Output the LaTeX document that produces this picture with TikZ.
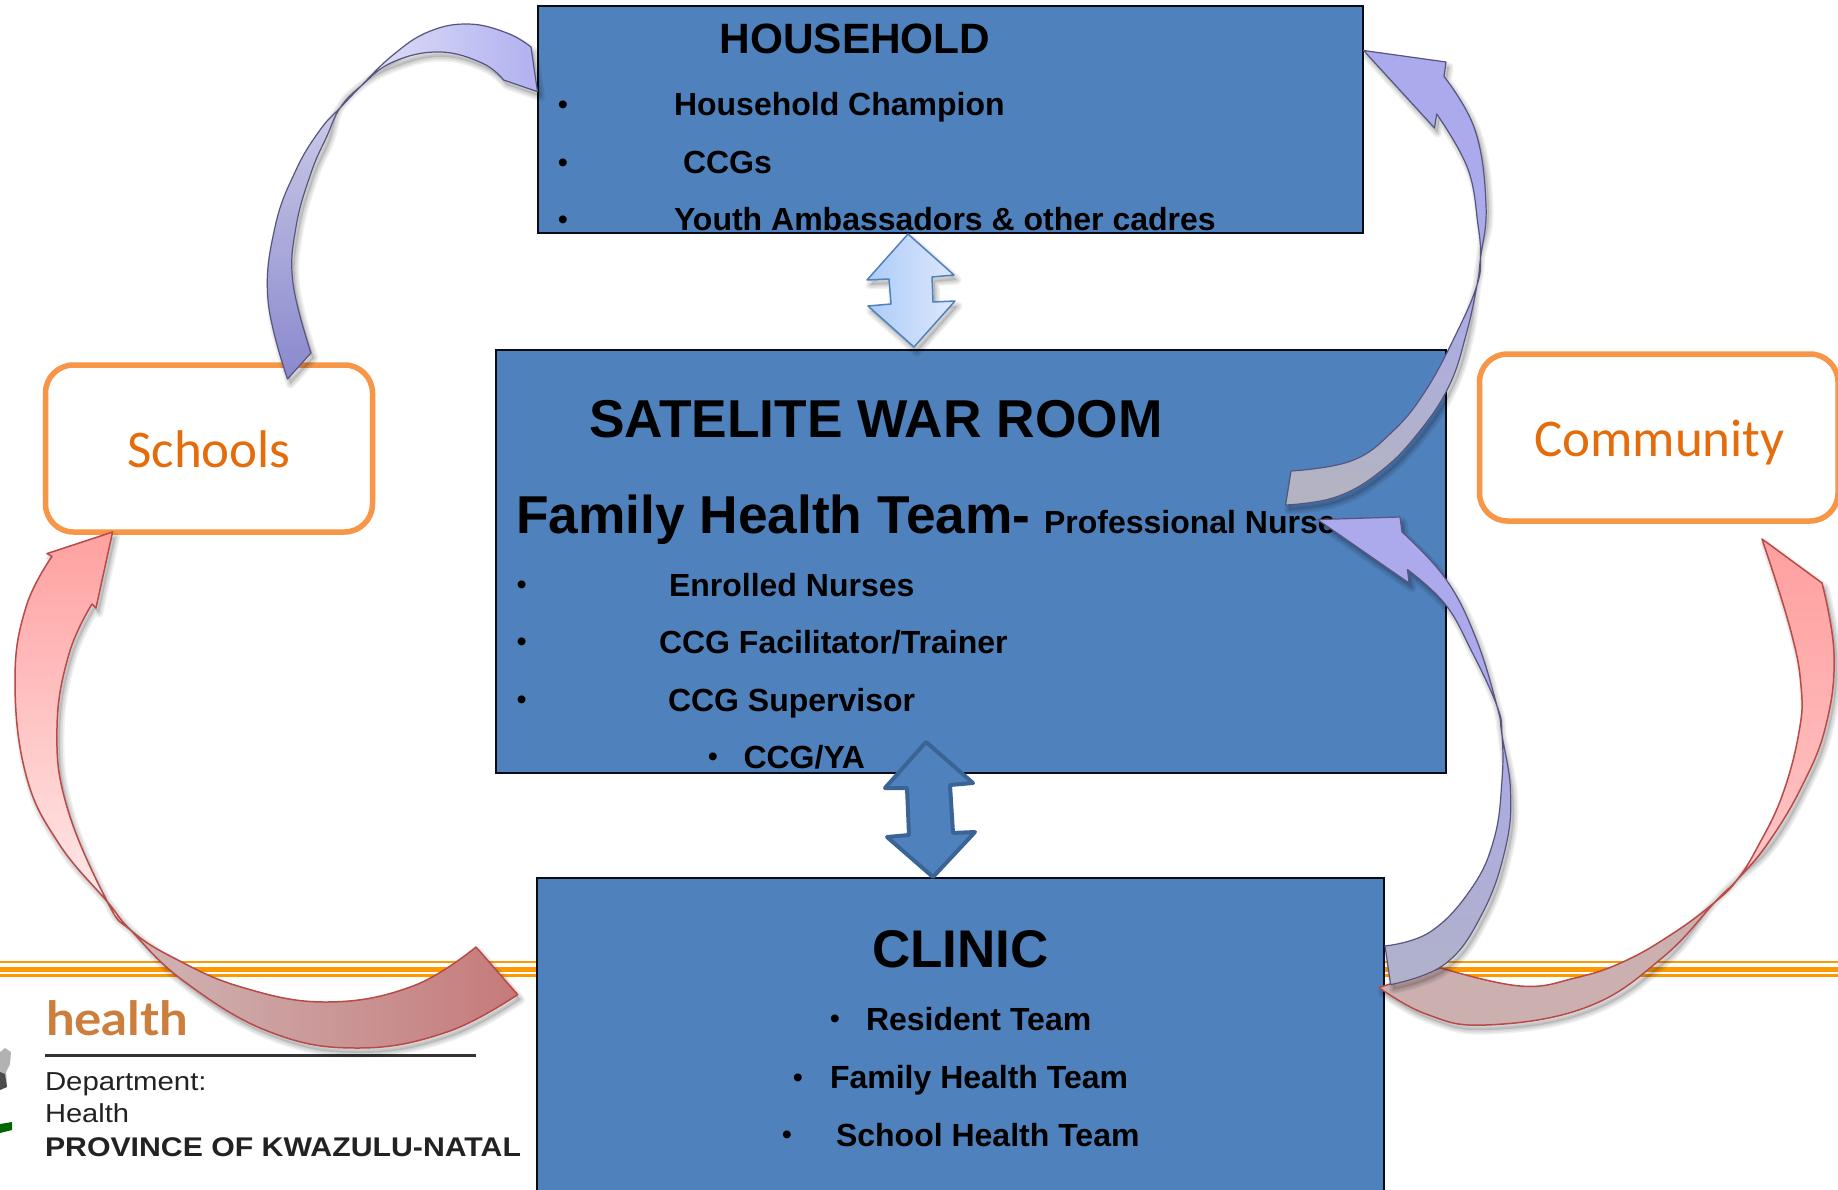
\documentclass[tikz,border=0pt]{standalone}
\usepackage{fontspec}
\usepackage{graphicx}
\setmainfont{Liberation Sans}
\newfontfamily\calibrilike{Carlito}
\newfontfamily\logofont{Lato}
\definecolor{boxblue}{HTML}{4F81BD}
\definecolor{boxedge}{HTML}{0A0A14}
\definecolor{orangeedge}{HTML}{F79646}
\definecolor{orangetext}{HTML}{E46C0A}
\definecolor{stripe}{HTML}{FF9900}
\definecolor{redline}{HTML}{B84A48}
\definecolor{blueline}{HTML}{55557F}
\definecolor{darkarrow}{HTML}{3A6496}
\definecolor{lightline}{HTML}{4F81BD}
\definecolor{logoorange}{HTML}{CC7F3C}
\definecolor{logotext}{HTML}{222222}
\tikzset{
  bluebox/.style={draw=boxedge,line width=2pt,fill=boxblue},
  roundbox/.style={draw=orangeedge,line width=5.5pt,fill=white,rounded corners=28pt},
  lbl/.style={anchor=base west,inner sep=0pt,outer sep=0pt,text=black},
  bul/.style={anchor=base,inner sep=0pt,outer sep=0pt,text=black,yshift=1.5pt,font=\mdseries\fsz{29}},
  redout/.style={draw=redline,line width=1.5pt,line join=round},
  blueout/.style={draw=blueline,line width=1.2pt,line join=round},
  sm/.style={smooth,tension=.7}
}
\newcommand{\fsz}[1]{\fontsize{#1}{#1}\selectfont}
\newcommand{\softshadow}[1]{%
  \begin{scope}[shift={(3,5)}]
    \fill[black,opacity=.12] #1;
    \foreach \w in {9,6,3}{\draw[black,draw opacity=.06,line width=\w pt,line join=round] #1;}
  \end{scope}}
\begin{document}
\begin{tikzpicture}[x=1pt,y=-1pt]
\path[use as bounding box,clip] (0,0) rectangle (1838,1190);
\fill[white] (0,0) rectangle (1838,1190);

% orange stripes
\fill[stripe] (0,960.8) rectangle (1838,963.4);
\fill[stripe] (0,966.5) rectangle (1838,971.5);
\fill[stripe] (0,973.8) rectangle (1838,976.8);

% logo
\fill[gray!60] (0,1052) -- (5,1048) -- (11,1052) -- (10,1064) -- (6,1072) -- (7,1086) -- (0,1090) -- cycle;
\fill[black!70] (0,1072) -- (5,1074) -- (7,1087) -- (0,1090) -- cycle;
\fill[green!40!black] (0,1124) -- (12,1122) -- (12,1130) -- (0,1133) -- cycle;
\node[lbl,text=logoorange] (loghealth) at (46,1035) {\logofont\bfseries\fsz{47}\scalebox{1.085}[1]{health}};
\fill[black!80] (45,1054) rectangle (476,1056.5);
\node[lbl,text=logotext] (logdept) at (45,1090) {\fsz{26}\scalebox{1.13}[1]{Department:}};
\node[lbl,text=logotext] (loghlth) at (45,1122.7) {\fsz{26}\scalebox{1.12}[1]{Health}};
\node[lbl,text=logotext] (logprov) at (45,1156) {\bfseries\fsz{27}\scalebox{1.12}[1]{PROVINCE OF KWAZULU-NATAL}};

% boxes
\draw[bluebox] (538,6) rectangle (1362.5,232.7);
\draw[bluebox] (496,350) rectangle (1446,772.5);
\draw[bluebox] (536.5,877.5) rectangle (1384,1192);
\draw[roundbox] (45.5,365) rectangle (372.5,532);
\draw[roundbox] (1479.5,354) rectangle (1838,521);

% household text
\node[lbl,font=\bfseries\fsz{42.4}] (hh) at (719.5,53.5) {HOUSEHOLD};
\node[bul] (hb1) at (563,116) {•};
\node[bul] (hb2) at (563,174) {•};
\node[bul] (hb3) at (563,231) {•};
\node[lbl,font=\bfseries\fsz{32}] (h1) at (674,116) {Household Champion};
\node[lbl,font=\bfseries\fsz{32}] (h2) at (683,174) {CCGs};
\node[lbl,font=\bfseries\fsz{32}] (h3) at (674,231) {Youth Ambassadors \& other cadres};

% war room text
\node[lbl,font=\bfseries\fsz{53.3}] (wr) at (589,437) {SATELITE WAR ROOM};
\node[lbl,font=\bfseries\fsz{53.3}] (fh) at (516,533) {Family Health Team-};
\node[lbl,font=\bfseries\fsz{32}] (pn) at (1044,533) {Professional Nurse};
\node[bul] (wb1) at (521.6,596) {•};
\node[bul] (wb2) at (521.6,653) {•};
\node[bul] (wb3) at (521.6,711) {•};
\node[bul] (wb4) at (713,768) {•};
\node[lbl,font=\bfseries\fsz{32}] (w1) at (669,596) {Enrolled Nurses};
\node[lbl,font=\bfseries\fsz{32}] (w2) at (659,653) {CCG Facilitator/Trainer};
\node[lbl,font=\bfseries\fsz{32}] (w3) at (668,711.5) {CCG Supervisor};
\node[lbl,font=\bfseries\fsz{32}] (w4) at (743.5,768.5) {CCG/YA};

% clinic text
\node[lbl,font=\bfseries\fsz{53}] (cl) at (872,967) {CLINIC};
\node[bul] (cb1) at (835,1030) {•};
\node[bul] (cb2) at (798,1088.5) {•};
\node[bul] (cb3) at (787,1146) {•};
\node[lbl,font=\bfseries\fsz{32}] (c1) at (866,1030) {Resident Team};
\node[lbl,font=\bfseries\fsz{32}] (c2) at (830,1088.5) {Family Health Team};
\node[lbl,font=\bfseries\fsz{32}] (c3) at (836,1146) {School Health Team};

% side labels
\node[anchor=base,inner sep=0pt,text=orangetext,font=\calibrilike\fsz{53}] (sch) at (209,467) {Schools};
\node[anchor=base,inner sep=0pt,text=orangetext,font=\calibrilike\fsz{53}] (com) at (1659.5,456.4) {Community};

% double arrows
\def\dblA{(908,234) -- (954,275) -- (932,277) -- (933,302) -- (955,301) -- (914,347) -- (868,306) -- (891,304) -- (889,279) -- (867,280) -- cycle}
\softshadow{\dblA}
\shade[left color={rgb,255:red,172;green,203;blue,249},right color={rgb,255:red,222;green,232;blue,252}] \dblA;
\draw[lightline,line width=1.5pt,line join=round] \dblA;
\draw[darkarrow,line width=4pt,line join=round,fill=boxblue] (926,742) -- (973,783) -- (950,785) -- (953,833) -- (975,832) -- (933,877) -- (887,837) -- (909,835) -- (907,788) -- (885,788) -- cycle;

% ---- curved arrows ----
% Clinic to Schools (red)
\coordinate (ap) at (107.5,902);
\coordinate (aq) at (130.5,930);
\def\aW{(112.6,532) -- (47,553.6) -- (52,556.4) -- plot[sm] coordinates {(52,556.4) (26,607) (15,680) (26,775) (58.5,843) (ap) (aq) (185,982) (270,1032) (358,1048) (447,1032) (517.6,994.6)} -- (476,947) -- plot[sm] coordinates {(476,947) (413,986) (327,1002) (241,987) (172,957) (aq) (ap) (67,807) (57,728) (69,654) (92,604)} -- (96,608) -- cycle}
\softshadow{\aW}
\begin{scope}
\clip \aW;
\shade[top color={rgb,255:red,255;green,160;blue,160},bottom color={rgb,255:red,255;green,235;blue,235}] (0,530) rectangle (140,916);
\shade[left color={rgb,255:red,208;green,186;blue,186},right color={rgb,255:red,198;green,120;blue,120}] (100,916) rectangle (530,1060);
\end{scope}
\draw[redout] \aW;

% Clinic to Community (red)
\coordinate (bp) at (1737,880);
\coordinate (bq) at (1715,902);
\def\bW{(1762,539) -- (1822,583) -- plot[sm] coordinates {(1822,583) (1834,654) (1826,725) (1802,786) (1768,843) (bp) (bq) (1662,958) (1587,1007) (1486,1025) (1426,1014) (1379,987.5)} -- (1441,968) -- plot[sm] coordinates {(1441,968) (1520,986) (1575,978) (1625,961) (1675,932) (bq) (bp) (1757,848) (1782,796) (1799,732) (1801,686) (1790,628) (1762,539)} -- cycle}
\softshadow{\bW}
\begin{scope}
\clip \bW;
\shade[top color={rgb,255:red,255;green,158;blue,158},bottom color={rgb,255:red,255;green,200;blue,200}] (1720,530) rectangle (1838,891);
\fill[fill={rgb,255:red,204;green,176;blue,176}] (1370,891) rectangle (1730,1040);
\end{scope}
\draw[redout] \bW;

% Schools to Household (blue)
\coordinate (cp) at (340,108);
\coordinate (cq) at (361,86);
\def\cW{(311,353) -- (287.5,379) -- plot[sm] coordinates {(287.5,379) (268,300) (275,227) (296,170) (320,130) (cp) (cq) (393,55) (428,32) (468,24) (507,33) (531,47)} -- (537.5,91.7) -- (503.6,80) -- plot[sm] coordinates {(503.6,80) (482,63) (439,52) (393,62) (cq) (cp) (327,136) (311,173) (296,227) (293,283) (311,353)} -- cycle}
\softshadow{\cW}
\begin{scope}
\clip \cW;
\shade[top color={rgb,255:red,205;green,205;blue,232},bottom color={rgb,255:red,135;green,135;blue,205}] (255,96.7) rectangle (360,385);
\shade[left color={rgb,255:red,228;green,228;blue,248},right color={rgb,255:red,176;green,176;blue,240}] (345,15) rectangle (540,96.7);
\end{scope}
\draw[blueout] \cW;

% War room to Household (blue)
\coordinate (dp) at (1480.5,258);
\coordinate (dq) at (1477,285);
\def\dW{(1363.6,50.5) -- (1446,62) -- (1444,76.5) -- plot[sm] coordinates {(1444,76.5) (1475,130) (1486,205) (dp) (dq) (1466,335) (1449,386) (1419,432) (1381,471) (1336,497) (1285.6,505)} -- (1291,471) -- plot[sm] coordinates {(1291,471) (1351,461) (1392,432) (1426,390) (1458,330) (dq) (dp) (1478,225) (1467.5,168) (1436.7,114)} -- (1434.5,128) -- cycle}
\softshadow{\dW}
\begin{scope}
\clip \dW;
\fill[fill={rgb,255:red,170;green,170;blue,236}] (1360,40) rectangle (1495,268);
\shade[top color={rgb,255:red,170;green,170;blue,236},bottom color={rgb,255:red,180;green,180;blue,190}] (1280,268) rectangle (1495,510);
\end{scope}
\draw[blueout] \dW;

% Clinic to War room (blue)
\coordinate (ep) at (1497,706);
\coordinate (eq) at (1502,735);
\def\eW{(1317.5,519.6) -- (1400,517) -- (1402,532) -- plot[sm] coordinates {(1402,532) (1445,578) (1475,636) (ep) (eq) (1510.6,793) (1505,850) (1482,914) (1445,964) (1390.6,984.6)} -- (1385,946) -- plot[sm] coordinates {(1385,946) (1430,932) (1471,889) (1494,839) (1502,780) (eq) (ep) (1471,650) (1445,604) (1407.5,569.6)} -- (1409,583) -- cycle}
\softshadow{\eW}
\begin{scope}
\clip \eW;
\fill[fill={rgb,255:red,172;green,170;blue,236}] (1310,510) rectangle (1520,735.7);
\shade[top color={rgb,255:red,172;green,170;blue,232},bottom color={rgb,255:red,176;green,178;blue,200}] (1380,735.7) rectangle (1520,990);
\end{scope}
\draw[blueout] \eW;
\end{tikzpicture}
\end{document}
